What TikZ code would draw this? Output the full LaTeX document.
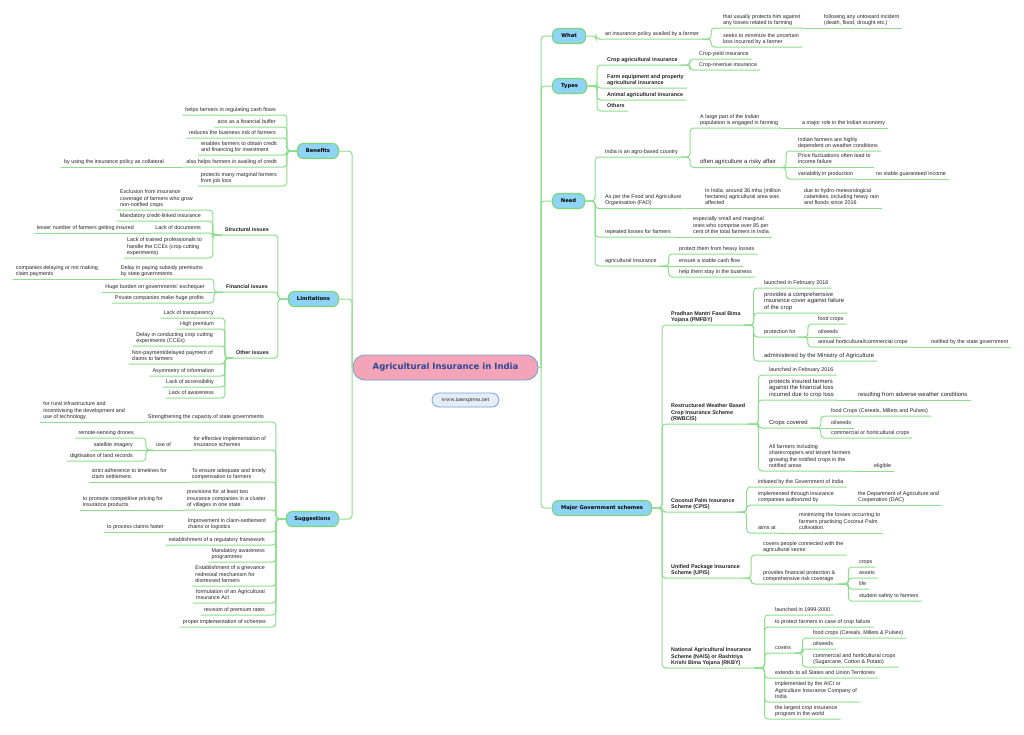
\documentclass[tikz,border=0pt]{standalone}
\usepackage{fontspec}
\setmainfont{Liberation Sans}
\newfontfamily\djv{DejaVu Sans}
\newfontfamily\lserif{Liberation Serif}
\definecolor{lgreen}{RGB}{140,222,140}
\definecolor{mgreen}{RGB}{120,214,120}
\definecolor{mblue}{RGB}{143,212,244}
\definecolor{cpink}{RGB}{243,164,184}
\definecolor{cblue}{RGB}{120,160,215}
\definecolor{ctitle}{RGB}{45,70,150}
\definecolor{wfill}{RGB}{228,236,246}
\definecolor{txt}{RGB}{35,35,35}
\newcommand\MainR[2]{\draw[br] (#1.east) -- ++(10,0) |- (#2.south west) -- (#2.south east);}
\newcommand\MainL[2]{\draw[br] (#1.west) -- ++(-10,0) |- (#2.south east) -- (#2.south west);}
\newcommand\ConR[3]{\draw[br] (#1.south east) -- ++(#3,0) |- (#2.south west) -- (#2.south east);}
\newcommand\ConL[3]{\draw[br] (#1.south west) -- ++(-#3,0) |- (#2.south east) -- (#2.south west);}
\newcommand\StR[2]{\draw[br] (#1.south east) -- (#2.south east);}
\newcommand\StL[2]{\draw[br] (#1.south west) -- (#2.south west);}
\tikzset{
 br/.style={draw=lgreen, line width=1pt, rounded corners=3.5pt},
 leaf/.style={font=\fontsize{5.4}{6.3}\selectfont, text=txt, inner xsep=3pt, inner ysep=2.2pt, align=left,
   execute at end node={\rule[-1.3pt]{0pt}{1pt}}},
 rleaf/.style={leaf, anchor=south west, xshift=-3pt},
 lleaf/.style={leaf, anchor=south east, xshift=3pt},
 bf/.style={font=\fontsize{5.4}{6.3}\selectfont\bfseries},
 big/.style={font=\fontsize{5.9}{6.5}\selectfont},
 mainbox/.style={draw=mgreen, line width=1.1pt, fill=mblue, rounded corners=6pt, minimum height=15pt, inner sep=0pt, text=black, font=\djv\bfseries\fontsize{5.2}{6}\selectfont}
}
\begin{document}
\begin{tikzpicture}[x=1pt,y=-1pt]
\useasboundingbox (0,0) rectangle (1024,734);
\fill[white] (0,0) rectangle (1024,734);
% center
\node[draw=cblue, fill=cpink, line width=0.9pt, rounded corners=12pt, minimum width=185pt, minimum height=25pt, inner sep=0pt, font=\djv\bfseries\fontsize{8.5}{10}\selectfont, text=ctitle] (center) at (445.5,367.5) {Agricultural Insurance in India};
\node[draw=cblue, fill=wfill, line width=0.8pt, rounded corners=7pt, minimum width=67pt, minimum height=14pt, inner sep=0pt, font=\lserif\fontsize{6}{7}\selectfont, text=txt] (www) at (465.5,400) {www.iasexpress.net};
\coordinate (rj) at (541,367.5);
\coordinate (lj) at (352,367.5);
% main nodes
\node[mainbox, minimum width=33pt, anchor=west] (what) at (552,36) {What};
\node[mainbox, minimum width=34pt, anchor=west] (types) at (552,86) {Types};
\node[mainbox, minimum width=32pt, anchor=west] (need) at (552,201) {Need};
\node[mainbox, minimum width=99pt, anchor=west] (major) at (552,508) {Major Government schemes};
\node[mainbox, minimum width=41pt, anchor=east] (benefits) at (339,151) {Benefits};
\node[mainbox, minimum width=50pt, anchor=east] (limits) at (339,299) {Limitations};
\node[mainbox, minimum width=52pt, anchor=east] (sugg) at (339,519) {Suggestions};
\draw[br] (center.east) -- (rj);
\draw[br] (center.west) -- (lj);
\foreach \m in {what,types,need,major} {\draw[br] (rj) |- (\m.west);}
\foreach \m in {benefits,limits,sugg} {\draw[br] (lj) |- (\m.east);}
% ---------- What
\node[rleaf] (w1) at (605,39) {an insurance policy availed by a farmer};
\node[rleaf] (w11) at (723,28) {that usually protects him against\\any losses related to farming};
\node[rleaf] (w111) at (824,28) {following any untoward incident\\(death, flood, drought etc.)};
\node[rleaf] (w12) at (723,47) {seeks to minimize the uncertain\\loss incurred by a farmer};
\MainR{what}{w1}
\ConR{w1}{w11}{9} \StR{w11}{w111} \ConR{w1}{w12}{9}
% ---------- Types
\node[rleaf,bf] (t1) at (607,65) {Crop agricultural insurance};
\node[rleaf] (t11) at (699,59) {Crop-yield insurance};
\node[rleaf] (t12) at (699,70) {Crop-revenue insurance};
\node[rleaf,bf] (t2) at (607,88) {Farm equipment and property\\agricultural insurance};
\node[rleaf,bf] (t3) at (607,100) {Animal agricultural insurance};
\node[rleaf,bf] (t4) at (607,111) {Others};
\MainR{types}{t1} \MainR{types}{t2} \MainR{types}{t3} \MainR{types}{t4}
\ConR{t1}{t11}{9} \ConR{t1}{t12}{9}
% ---------- Need
\node[rleaf] (n1) at (605,157) {India is an agro-based country};
\node[rleaf] (n11) at (700,128) {A large part of the Indian\\population is engaged in farming};
\node[rleaf] (n111) at (802,128) {a major role in the Indian economy};
\node[rleaf,big] (n12) at (700,167.5) {often agriculture a risky affair};
\node[rleaf] (n121) at (798,151) {Indian farmers are highly\\dependent on weather conditions};
\node[rleaf] (n122) at (798,167.5) {Price fluctuations often lead to\\income failure};
\node[rleaf] (n123) at (798,179) {variability in production};
\node[rleaf] (n1231) at (876,179) {no stable guaranteed income};
\node[rleaf] (n2) at (605,208.5) {As per the Food and Agriculture\\Organisation (FAO)};
\node[rleaf] (n21) at (705,208.5) {In India, around 36 mha (million\\hectares) agricultural area was\\affected};
\node[rleaf] (n211) at (804,208.5) {due to hydro-meteorological\\calamities, including heavy rain\\and floods since 2016};
\node[rleaf] (n3) at (605,237) {repeated losses for farmers};
\node[rleaf] (n31) at (693,237) {especially small and marginal\\ones who comprise over 85 per\\cent of the total farmers in India};
\node[rleaf] (n4) at (605,266) {agricultural insurance};
\node[rleaf] (n41) at (679,254) {protect them from heavy losses};
\node[rleaf] (n42) at (679,266) {ensure a stable cash flow};
\node[rleaf] (n43) at (679,277) {help them stay in the business};
\MainR{need}{n1} \MainR{need}{n2} \MainR{need}{n3} \MainR{need}{n4}
\ConR{n1}{n11}{9} \StR{n11}{n111} \ConR{n1}{n12}{9}
\ConR{n12}{n121}{7} \StR{n12}{n122} \ConR{n12}{n123}{7} \StR{n123}{n1231}
\StR{n2}{n21} \StR{n21}{n211}
\StR{n3}{n31}
\ConR{n4}{n41}{9} \StR{n4}{n42} \ConR{n4}{n43}{9}
% ---------- Major government schemes
\node[rleaf,bf] (m1) at (671,325) {Pradhan Mantri Fasal Bima\\Yojana (PMFBY)};
\node[rleaf] (m11) at (764,288) {launched in February 2016};
\node[rleaf,big] (m12) at (764,313) {provides a comprehensive\\insurance cover against failure\\of the crop};
\node[rleaf] (m13) at (764,337) {protection for};
\node[rleaf] (m131) at (818,324) {food crops};
\node[rleaf] (m132) at (818,337) {oilseeds};
\node[rleaf] (m133) at (818,347) {annual horticultural/commercial crops};
\node[rleaf] (m1331) at (931,347) {notified by the state government};
\node[rleaf,big] (m14) at (764,361) {administered by the Ministry of Agriculture};
\node[rleaf,bf] (m2) at (671,424) {Restructured Weather Based\\Crop Insurance Scheme\\(RWBCIS)};
\node[rleaf] (m21) at (769,375) {launched in February 2016};
\node[rleaf,big] (m22) at (769,400) {protects insured farmers\\against the financial loss\\incurred due to crop loss};
\node[rleaf,big] (m221) at (858,400) {resulting from adverse weather conditions};
\node[rleaf,big] (m23) at (769,428) {Crops covered};
\node[rleaf] (m231) at (831,416) {food Crops (Cereals, Millets and Pulses)};
\node[rleaf] (m232) at (831,428) {oilseeds};
\node[rleaf] (m233) at (831,438) {commercial or horticultural crops};
\node[rleaf] (m24) at (769,471) {All farmers including\\sharecroppers and tenant farmers\\growing the notified crops in the\\notified areas};
\node[rleaf] (m241) at (874,471) {eligible};
\node[rleaf,bf] (m3) at (671,512) {Coconut Palm Insurance\\Scheme (CPIS)};
\node[rleaf] (m31) at (758,487) {initiated by the Government of India};
\node[rleaf] (m32) at (758,505) {implemented through insurance\\companies authorized by};
\node[rleaf] (m321) at (858,505) {the Department of Agriculture and\\Cooperation (DAC)};
\node[rleaf] (m33) at (758,533) {aims at};
\node[rleaf] (m331) at (799,533) {minimizing the losses occurring to\\farmers practising Coconut Palm\\cultivation.};
\node[rleaf,bf] (m4) at (671,578) {Unified Package Insurance\\Scheme (UPIS)};
\node[rleaf] (m41) at (763,555) {covers people connected with the\\agricultural sector};
\node[rleaf] (m42) at (763,584) {provides financial protection \&\\comprehensive risk coverage};
\node[rleaf] (m421) at (859,567) {crops};
\node[rleaf] (m422) at (859,578) {assets};
\node[rleaf] (m423) at (859,589) {life};
\node[rleaf] (m424) at (859,601) {student safety to farmers};
\node[rleaf,bf] (m5) at (671,668) {National Agricultural Insurance\\Scheme (NAIS) or Rashtriya\\Krishi Bima Yojana (RKBY)};
\node[rleaf] (m51) at (775,615) {launched in 1999-2000};
\node[rleaf] (m52) at (775,627) {to protect farmers in case of crop failure};
\node[rleaf] (m53) at (775,653) {covers};
\node[rleaf] (m531) at (813,638) {food crops (Cereals, Millets \& Pulses)};
\node[rleaf] (m532) at (813,649) {oilseeds};
\node[rleaf] (m533) at (813,667) {commercial and horticultural crops\\(Sugarcane, Cotton \& Potato)};
\node[rleaf] (m54) at (775,678) {extends to all States and Union Territories};
\node[rleaf] (m55) at (775,702) {implemented by the AICI or\\Agriculture Insurance Company of\\India};
\node[rleaf] (m56) at (775,719) {the largest crop insurance\\program in the world};
\foreach \c in {m1,m2,m3,m4,m5} {\MainR{major}{\c}}
\foreach \c in {m11,m12,m13,m14} {\ConR{m1}{\c}{10}}
\ConR{m13}{m131}{9} \StR{m13}{m132} \ConR{m13}{m133}{9} \StR{m133}{m1331}
\foreach \c in {m21,m22,m23,m24} {\ConR{m2}{\c}{10}}
\StR{m22}{m221}
\ConR{m23}{m231}{10} \StR{m23}{m232} \ConR{m23}{m233}{10}
\StR{m24}{m241}
\foreach \c in {m31,m32,m33} {\ConR{m3}{\c}{9}}
\StR{m32}{m321} \StR{m33}{m331}
\foreach \c in {m41,m42} {\ConR{m4}{\c}{8}}
\foreach \c in {m421,m422,m423,m424} {\ConR{m42}{\c}{10}}
\foreach \c in {m51,m52,m53,m54,m55,m56} {\ConR{m5}{\c}{10}}
\foreach \c in {m531,m532,m533} {\ConR{m53}{\c}{8}}
% ---------- Benefits
\node[lleaf] (b1) at (276,115) {helps farmers in regulating cash flows};
\node[lleaf] (b2) at (276,127) {acts as a financial buffer};
\node[lleaf] (b3) at (276,138) {reduces the business risk of farmers};
\node[lleaf] (b4) at (277,155) {enables farmers to obtain credit\\and financing for investment};
\node[lleaf] (b5) at (277,167) {also helps farmers in availing of credit};
\node[lleaf] (b51) at (164,167) {by using the insurance policy as collateral};
\node[lleaf] (b6) at (277,186) {protects many marginal farmers\\from job loss};
\foreach \c in {b1,b2,b3,b4,b5,b6} {\MainL{benefits}{\c}}
\StL{b5}{b51}
% ---------- Limitations
\node[lleaf,bf] (l1) at (269,235) {Structural issues};
\node[lleaf] (l11) at (193,210) {Exclusion from insurance\\coverage of farmers who grow\\non-notified crops};
\node[lleaf] (l12) at (201,221) {Mandatory credit-linked insurance};
\node[lleaf] (l13) at (201,233) {Lack of documents};
\node[lleaf] (l131) at (134,233) {lesser number of farmers getting insured};
\node[lleaf] (l14) at (202,258) {Lack of trained professionals to\\handle the CCEs (crop cutting\\experiments)};
\node[lleaf,bf] (l2) at (268,292) {Financial issues};
\node[lleaf] (l21) at (203,279) {Delay in paying subsidy premiums\\by state governments};
\node[lleaf] (l211) at (98,279) {companies delaying or not making\\claim payments};
\node[lleaf] (l22) at (205,292) {Huge burden on governments' exchequer};
\node[lleaf] (l23) at (204,303) {Private companies make huge profits};
\node[lleaf,bf] (l3) at (269,358) {Other issues};
\node[lleaf] (l31) at (214,318) {Lack of transparency};
\node[lleaf] (l32) at (214,329) {High premium};
\node[lleaf] (l33) at (213,346) {Delay in conducting crop cutting\\experiments (CCEs)};
\node[lleaf] (l34) at (213,364) {Non-payment/delayed payment of\\claims to farmers};
\node[lleaf] (l35) at (214,376) {Asymmetry of information};
\node[lleaf] (l36) at (214,387) {Lack of accessibility};
\node[lleaf] (l37) at (214,398) {Lack of awareness};
\foreach \c in {l1,l2,l3} {\MainL{limits}{\c}}
\foreach \c in {l11,l12,l13,l14} {\ConL{l1}{\c}{9}}
\StL{l13}{l131}
\ConL{l2}{l21}{9} \StL{l2}{l22} \ConL{l2}{l23}{9} \StL{l21}{l211}
\foreach \c in {l31,l32,l33,l34,l35,l36,l37} {\ConL{l3}{\c}{8}}
% ---------- Suggestions
\node[lleaf] (s1) at (264,422) {Strengthening the capacity of state governments};
\node[lleaf] (s11) at (125,422) {for rural infrastructure and\\incentivising the development and\\use of technology.};
\node[lleaf] (s2) at (266,450) {for effective implementation of\\insurance schemes};
\node[lleaf] (s21) at (171,450) {use of};
\node[lleaf] (s211) at (134,438) {remote-sensing drones};
\node[lleaf] (s212) at (133,450) {satellite imagery};
\node[lleaf] (s213) at (133,461) {digitisation of land records};
\node[lleaf] (s3) at (266,482) {To ensure adequate and timely\\compensation to farmers};
\node[lleaf] (s31) at (167,482) {strict adherence to timelines for\\claim settlement.};
\node[lleaf] (s4) at (266,510) {provisions for at least two\\insurance companies in a cluster\\of villages in one state};
\node[lleaf] (s41) at (163,510) {to promote competitive pricing for\\insurance products};
\node[lleaf] (s5) at (266,532) {Improvement in claim-settlement\\chains or logistics};
\node[lleaf] (s51) at (164,532) {to process claims faster};
\node[lleaf] (s6) at (265,545) {establishment of a regulatory framework};
\node[lleaf] (s7) at (265,562) {Mandatory awareness\\programmes};
\node[lleaf] (s8) at (265,586) {Establishment of a grievance\\redressal mechanism for\\distressed farmers};
\node[lleaf] (s9) at (265,603) {formulation of an Agricultural\\Insurance Act};
\node[lleaf] (s10) at (265,615) {revision of premium rates};
\node[lleaf] (s12) at (266,627) {proper implementation of schemes};
\foreach \c in {s1,s2,s3,s4,s5,s6,s7,s8,s9,s10,s12} {\MainL{sugg}{\c}}
\StL{s1}{s11} \StL{s2}{s21}
\ConL{s21}{s211}{7} \StL{s21}{s212} \ConL{s21}{s213}{7}
\StL{s3}{s31} \StL{s4}{s41} \StL{s5}{s51}
\end{tikzpicture}
\end{document}
